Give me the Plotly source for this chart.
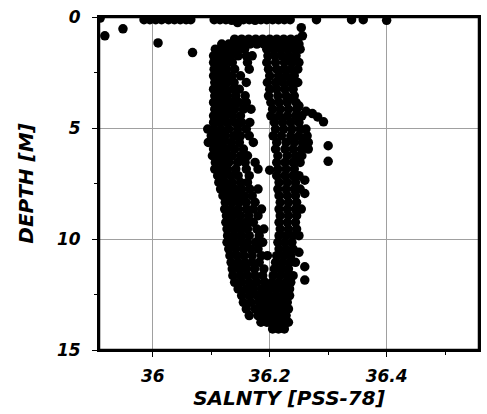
import plotly.graph_objects as go

# ---- surface points (depth ~0.1 m) ----
surface_sal = [35.910, 35.985, 35.995, 36.005, 36.015, 36.027, 36.037, 36.047, 36.057, 36.065,
               36.105, 36.115, 36.125, 36.135, 36.145, 36.155, 36.165, 36.175, 36.185, 36.195,
               36.205, 36.215, 36.225, 36.235, 36.280, 36.340, 36.360, 36.400]
surface_depth = [0.05, 0.12, 0.12, 0.12, 0.12, 0.12, 0.12, 0.12, 0.12, 0.12,
                 0.12, 0.12, 0.12, 0.15, 0.25, 0.12, 0.12, 0.15, 0.12, 0.12,
                 0.12, 0.12, 0.12, 0.12, 0.12, 0.12, 0.12, 0.15]

# ---- isolated points ----
outlier_sal = [35.918, 35.949, 36.009, 36.068, 36.254, 36.256, 36.300, 36.300, 36.200,
               36.260, 36.260, 36.250, 36.260, 36.260, 36.240, 36.250, 36.262, 36.273, 36.282, 36.292]
outlier_depth = [0.85, 0.53, 1.17, 1.60, 0.48, 0.85, 5.80, 6.50, 6.90,
                 7.35, 7.95, 10.60, 11.25, 11.85, 3.65, 4.00, 4.25, 4.35, 4.50, 4.72]

# ---- band near 1 m ----
band_depth_rows = [1.0, 1.22]
band_sal_rows = [
    [36.140, 36.152, 36.164, 36.176, 36.188, 36.200, 36.212, 36.224, 36.236, 36.248],
    [36.118, 36.130, 36.142, 36.154, 36.166, 36.178, 36.190, 36.202, 36.214, 36.226, 36.238, 36.250],
]

# ---- left (fresher) column ----
left_depth_rows = [1.45, 1.75, 2.05, 2.35, 2.65, 2.95, 3.25, 3.55, 3.85, 4.15, 4.45, 4.75,
                   5.05, 5.35, 5.65, 5.95, 6.25, 6.55, 6.85, 7.15, 7.45, 7.75, 8.05, 8.35,
                   8.65, 8.95, 9.25, 9.55, 9.85, 10.15, 10.45, 10.75, 11.05, 11.35, 11.65,
                   11.95, 12.25, 12.55, 12.85, 13.15, 13.45, 13.75]
left_sal_rows = [
    [36.107, 36.117, 36.127, 36.137, 36.147, 36.157],
    [36.104, 36.114, 36.124, 36.134, 36.146, 36.160, 36.170],
    [36.104, 36.114, 36.124, 36.136, 36.162],
    [36.105, 36.115, 36.126, 36.140, 36.165],
    [36.104, 36.114, 36.124, 36.135, 36.150],
    [36.106, 36.116, 36.127, 36.139, 36.160],
    [36.104, 36.114, 36.125, 36.137, 36.148],
    [36.106, 36.117, 36.128, 36.142, 36.158],
    [36.104, 36.114, 36.124, 36.135, 36.147, 36.160],
    [36.106, 36.117, 36.128, 36.140, 36.155, 36.168],
    [36.104, 36.114, 36.125, 36.137, 36.150],
    [36.104, 36.115, 36.127, 36.140, 36.152, 36.166],
    [36.094, 36.105, 36.117, 36.130, 36.145, 36.160],
    [36.100, 36.112, 36.124, 36.138, 36.150, 36.165],
    [36.095, 36.108, 36.120, 36.134, 36.148, 36.172],
    [36.104, 36.115, 36.127, 36.140, 36.155],
    [36.102, 36.113, 36.124, 36.136, 36.150, 36.162],
    [36.107, 36.118, 36.130, 36.145, 36.158, 36.175],
    [36.106, 36.117, 36.128, 36.142, 36.160, 36.180],
    [36.111, 36.122, 36.134, 36.146, 36.165],
    [36.113, 36.124, 36.136, 36.150, 36.162],
    [36.116, 36.128, 36.140, 36.152, 36.166, 36.180],
    [36.120, 36.132, 36.144, 36.156, 36.170],
    [36.124, 36.136, 36.148, 36.160, 36.175],
    [36.123, 36.134, 36.146, 36.160, 36.172, 36.186],
    [36.126, 36.138, 36.150, 36.164, 36.180],
    [36.125, 36.136, 36.148, 36.160, 36.172],
    [36.127, 36.138, 36.150, 36.162, 36.178, 36.190],
    [36.128, 36.140, 36.152, 36.165, 36.182],
    [36.127, 36.138, 36.150, 36.162, 36.176, 36.188],
    [36.130, 36.142, 36.155, 36.168, 36.180],
    [36.132, 36.144, 36.156, 36.170, 36.186, 36.196],
    [36.134, 36.146, 36.158, 36.170, 36.182],
    [36.136, 36.148, 36.160, 36.174, 36.190],
    [36.137, 36.150, 36.162, 36.175, 36.188],
    [36.140, 36.152, 36.165, 36.178, 36.192],
    [36.146, 36.160, 36.172, 36.186],
    [36.152, 36.165, 36.178, 36.190],
    [36.155, 36.168, 36.182],
    [36.160, 36.175, 36.188],
    [36.165, 36.180, 36.192],
    [36.185, 36.195],
]

# ---- right (saltier) column ----
right_depth_rows = [1.45, 1.75, 2.05, 2.35, 2.65, 2.95, 3.25, 3.55, 3.85, 4.15, 4.45, 4.75,
                    5.05, 5.35, 5.65, 5.95, 6.25, 6.55, 6.85, 7.15, 7.45, 7.75, 8.05, 8.35,
                    8.65, 8.95, 9.25, 9.55, 9.85, 10.15, 10.45, 10.75, 11.05, 11.35, 11.65,
                    11.95, 12.25, 12.55, 12.85, 13.15, 13.45, 13.75, 14.05]
right_sal_rows = [
    [36.195, 36.207, 36.219, 36.231, 36.243, 36.252],
    [36.197, 36.209, 36.221, 36.233, 36.245],
    [36.195, 36.210, 36.225, 36.238, 36.250],
    [36.198, 36.212, 36.224, 36.236, 36.248],
    [36.200, 36.215, 36.228, 36.242],
    [36.196, 36.210, 36.222, 36.235, 36.248],
    [36.200, 36.212, 36.226, 36.240],
    [36.198, 36.214, 36.228, 36.242],
    [36.202, 36.216, 36.230, 36.245],
    [36.205, 36.218, 36.232, 36.246],
    [36.202, 36.216, 36.230, 36.244, 36.255],
    [36.208, 36.222, 36.236, 36.250],
    [36.210, 36.224, 36.238, 36.252, 36.262],
    [36.206, 36.220, 36.236, 36.250, 36.264],
    [36.212, 36.228, 36.242, 36.256, 36.266],
    [36.210, 36.226, 36.240, 36.254, 36.266],
    [36.214, 36.230, 36.244, 36.255],
    [36.212, 36.226, 36.240, 36.252],
    [36.214, 36.228, 36.242],
    [36.212, 36.226, 36.240, 36.250],
    [36.216, 36.230, 36.244],
    [36.214, 36.228, 36.242, 36.252],
    [36.216, 36.230, 36.244],
    [36.218, 36.232, 36.246],
    [36.216, 36.230, 36.244, 36.254],
    [36.218, 36.232, 36.246],
    [36.216, 36.230, 36.244],
    [36.218, 36.232, 36.246],
    [36.216, 36.228, 36.240, 36.250],
    [36.214, 36.226, 36.238],
    [36.216, 36.228, 36.240],
    [36.212, 36.224, 36.236],
    [36.210, 36.222, 36.234, 36.244],
    [36.208, 36.220, 36.232],
    [36.206, 36.218, 36.230, 36.240],
    [36.204, 36.216, 36.228, 36.236],
    [36.198, 36.210, 36.222, 36.234],
    [36.200, 36.212, 36.224, 36.234],
    [36.194, 36.206, 36.218, 36.230],
    [36.198, 36.210, 36.222, 36.232],
    [36.204, 36.216, 36.228],
    [36.200, 36.212, 36.224, 36.232],
    [36.205, 36.215, 36.225],
]

x_tick_vals = [36.0, 36.2, 36.4]
x_tick_text = ["36", "36.2", "36.4"]
y_tick_vals = [0, 5, 10, 15]
y_tick_text = ["0", "5", "10", "15"]


def flatten(depth_rows, sal_rows):
    xs, ys = [], []
    for d, row in zip(depth_rows, sal_rows):
        for s in row:
            xs.append(s)
            ys.append(d)
    return xs, ys


all_x = list(surface_sal) + list(outlier_sal)
all_y = list(surface_depth) + list(outlier_depth)
for dr, sr in [(band_depth_rows, band_sal_rows), (left_depth_rows, left_sal_rows),
               (right_depth_rows, right_sal_rows)]:
    xs, ys = flatten(dr, sr)
    all_x += xs
    all_y += ys

fig = go.Figure()
fig.add_trace(go.Scatter(
    x=all_x, y=all_y, mode="markers",
    marker=dict(size=9.5, color="black", line=dict(width=0)),
    showlegend=False, hoverinfo="skip",
))

FONT = "DejaVu Sans, Arial, sans-serif"
font_tick = dict(family=FONT, size=17, color="black", weight="bold", style="italic")
font_title = dict(family=FONT, size=20, color="black", weight="bold", style="italic")

fig.update_layout(
    width=487, height=414,
    margin=dict(l=99, r=6, t=17, b=64),
    paper_bgcolor="white", plot_bgcolor="white",
    xaxis=dict(
        range=[35.908, 36.558], tickmode="array", tickvals=x_tick_vals, ticktext=x_tick_text,
        ticks="outside", ticklen=5, tickcolor="black", tickwidth=1,
        showline=True, linecolor="black", linewidth=2, mirror=True,
        showgrid=True, gridcolor="#a0a0a0", gridwidth=1, zeroline=False,
        tickfont=font_tick, ticklabelstandoff=5,
        minor=dict(tickvals=[36.1, 36.3, 36.5], ticks="outside", ticklen=3, tickcolor="black",
                   showgrid=False),
        title=dict(text="SALNTY [PSS-78]", font=font_title, standoff=1),
    ),
    yaxis=dict(
        range=[15, 0], tickmode="array", tickvals=y_tick_vals, ticktext=y_tick_text,
        ticks="outside", ticklen=5, tickcolor="black", tickwidth=1,
        showline=True, linecolor="black", linewidth=2, mirror=True,
        showgrid=True, gridcolor="#a0a0a0", gridwidth=1, zeroline=False,
        tickfont=font_tick, ticklabelstandoff=8,
        minor=dict(tickvals=[2.5, 7.5, 12.5], ticks="outside", ticklen=3, tickcolor="black",
                   showgrid=False),
        title=dict(text="DEPTH [M]", font=font_title, standoff=18),
    ),
    shapes=[dict(type="rect", xref="paper", yref="paper", x0=0, y0=0, x1=1, y1=1,
                 line=dict(color="black", width=2.5), fillcolor="rgba(0,0,0,0)", layer="above")],
)

fig.write_html(
    "out.html",
    config={"displayModeBar": False},
    post_script="document.body.style.margin='0';document.body.style.padding='0';"
                "document.documentElement.style.overflow='hidden';",
)
